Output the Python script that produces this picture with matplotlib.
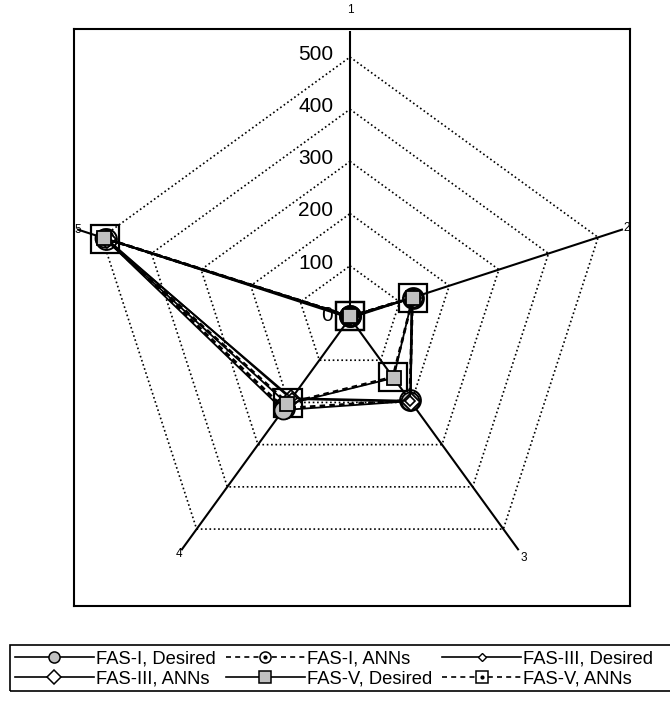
import matplotlib.pyplot as plt
import numpy as np
from matplotlib.lines import Line2D
from matplotlib.patches import Rectangle

plt.rcParams['font.family'] = ['Liberation Sans', 'DejaVu Sans']

# -------------------------
# Data
# -------------------------
axis_labels = ['1', '2', '3', '4', '5']
ring_levels = [0, 100, 200, 300, 400, 500]
r_max = 550

series_names = ['FAS-I, Desired', 'FAS-I, ANNs', 'FAS-III, Desired',
                'FAS-III, ANNs', 'FAS-V, Desired', 'FAS-V, ANNs']
fas1_desired = [3, 126, 197, 218, 495]
fas1_anns = [3, 126, 195, 214, 492]
fas3_desired = [3, 124, 196, 190, 494]
fas3_anns = [3, 125, 198, 192, 490]
fas5_desired = [3, 126, 142, 204, 495]
fas5_anns = [3, 127, 140, 202, 493]
series_values = [fas1_desired, fas1_anns, fas3_desired,
                 fas3_anns, fas5_desired, fas5_anns]

gray = '#c0c0c0'
dash = (0, (2, 1.5))
styles = [
    dict(ls='-', lw=1.3, marker='o', ms=13, mfc=gray, mew=1.3, zorder=5),
    dict(ls=dash, lw=2.0, marker='o', ms=15, mfc='none', mew=1.4, zorder=4),
    dict(ls='-', lw=1.3, marker='D', ms=5, mfc='white', mew=1.2, zorder=7),
    dict(ls='-', lw=1.3, marker='D', ms=9, mfc='white', mew=1.3, zorder=6),
    dict(ls='-', lw=1.3, marker='s', ms=10, mfc=gray, mew=1.3, zorder=8),
    dict(ls=dash, lw=2.0, marker='s', ms=20, mfc='none', mew=1.6, zorder=3),
]
dotted_series = [1, 5]

angles = np.arange(len(axis_labels)) * 2 * np.pi / len(axis_labels)
angles_closed = np.append(angles, angles[0])

# -------------------------
# Figure and frame
# -------------------------
fig = plt.figure(figsize=(6.7, 7.13), dpi=100)

frame_ax = fig.add_axes([74 / 670, 1 - 606 / 713, 556 / 670, 577 / 713])
frame_ax.set_xticks([])
frame_ax.set_yticks([])
for sp in frame_ax.spines.values():
    sp.set_linewidth(1.5)

ax = fig.add_axes([63 / 670, 1 - 605 / 713, 574 / 670, 574 / 713],
                  projection='polar')
ax.set_theta_zero_location('N')
ax.set_theta_direction(-1)
ax.set_ylim(0, r_max)
ax.axis('off')

# pentagon grid (dotted)
for lvl in ring_levels[1:]:
    ax.plot(angles_closed, [lvl] * len(angles_closed), color='black',
            lw=1.2, ls=(0, (1, 1.6)), zorder=1)

# spokes
for a in angles:
    ax.plot([a, a], [0, r_max], color='black', lw=1.5, zorder=2)

# spoke labels
label_r = [590, 558, 568, 558, 548]
for a, lab, rr in zip(angles, axis_labels, label_r):
    ax.text(a, rr, lab, ha='center', va='center', fontsize=8.5)

# radial tick labels
for lvl in ring_levels:
    ax.annotate(str(lvl), xy=(0, lvl), xytext=(-12, 2),
                textcoords='offset points', ha='right', va='center',
                fontsize=15)

# -------------------------
# Series
# -------------------------
for i, (vals, st) in enumerate(zip(series_values, styles)):
    v = np.append(vals, vals[0])
    ax.plot(angles_closed, v, color='black', mec='black', clip_on=False, **st)
    if i in dotted_series:
        ax.plot(angles_closed, v, ls='none', marker='o', ms=2.5,
                color='black', zorder=st['zorder'], clip_on=False)

# -------------------------
# Legend
# -------------------------
leg_styles = [
    dict(ls='-', lw=1.2, marker='o', ms=8, mfc=gray, mew=1.1),
    dict(ls=(0, (3, 2.5)), lw=1.2, marker='o', ms=8, mfc='white', mew=1.1),
    dict(ls='-', lw=1.2, marker='D', ms=4, mfc='white', mew=1.0),
    dict(ls='-', lw=1.2, marker='D', ms=7, mfc='white', mew=1.1),
    dict(ls='-', lw=1.2, marker='s', ms=8, mfc=gray, mew=1.1),
    dict(ls=(0, (3, 2.5)), lw=1.2, marker='s', ms=8, mfc='white', mew=1.1),
]
handles = []
for i, st in enumerate(leg_styles):
    h = Line2D([], [], color='black', mec='black', **st)
    if i in dotted_series:
        dot = Line2D([], [], ls='none', marker='o', ms=2, color='black')
        h = (h, dot)
    handles.append(h)

# row-major order for a 3-column legend
order = [0, 3, 1, 4, 2, 5]
fig.legend([handles[k] for k in order], [series_names[k] for k in order],
           loc='upper left', bbox_to_anchor=(15 / 670, 1 - 650 / 713),
           ncol=3, frameon=False, fontsize=13.2, borderpad=0,
           borderaxespad=0, handlelength=4.3, handletextpad=0.12,
           columnspacing=0.55, labelspacing=0.2)

fig.add_artist(Rectangle((10 / 670, 1 - 691 / 713), 670 / 670, 46 / 713,
                         transform=fig.transFigure, fill=False,
                         lw=1.2, ec='black', clip_on=False))

fig.savefig('out.png', dpi=100)
